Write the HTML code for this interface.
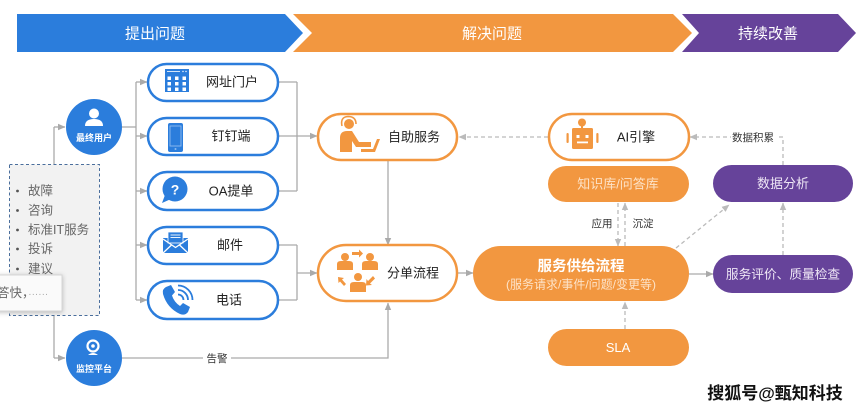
<!DOCTYPE html>
<html><head><meta charset="utf-8"><style>
html,body{margin:0;padding:0;background:#fff;}
svg{display:block;font-family:"Liberation Sans","Noto Sans CJK SC",sans-serif;}
</style></head><body>
<svg width="863" height="412" viewBox="0 0 863 412" xmlns="http://www.w3.org/2000/svg">
<defs>
<marker id="ag" markerWidth="8" markerHeight="8" refX="7" refY="4" orient="auto" markerUnits="userSpaceOnUse"><path d="M0,0.8 L7.5,4 L0,7.2 Z" fill="#aaa"/></marker>
<marker id="ad" markerWidth="8" markerHeight="8" refX="7" refY="4" orient="auto" markerUnits="userSpaceOnUse"><path d="M0,0.8 L7.5,4 L0,7.2 Z" fill="#bbb"/></marker>
<filter id="sh" x="-20%" y="-30%" width="140%" height="160%"><feDropShadow dx="0" dy="1" stdDeviation="2.5" flood-color="#000" flood-opacity="0.25"/></filter>
</defs>

<!-- banners -->
<polygon points="17,14 285,14 303,33 285,52 17,52" fill="#2b7ddc"/>
<polygon points="293,14 673,14 692,33 673,52 293,52 312,33" fill="#f29740"/>
<polygon points="682,14 838,14 856,33 838,52 682,52 699,33" fill="#66439a"/>
<text x="155" y="38.5" font-size="15" fill="#fff" text-anchor="middle">提出问题</text>
<text x="492" y="38.5" font-size="15" fill="#fff" text-anchor="middle">解决问题</text>
<text x="768" y="38.5" font-size="15" fill="#fff" text-anchor="middle">持续改善</text>

<!-- left connectors -->
<g stroke="#aaa" stroke-width="1.3" fill="none">
<line x1="54" y1="127" x2="54" y2="358"/>
<line x1="54" y1="127" x2="65" y2="127" marker-end="url(#ag)"/>
<line x1="54" y1="358" x2="65" y2="358" marker-end="url(#ag)"/>
<line x1="122" y1="127" x2="136" y2="127"/>
<line x1="136" y1="82" x2="136" y2="300"/>
<line x1="136" y1="82" x2="147" y2="82" marker-end="url(#ag)"/>
<line x1="136" y1="136" x2="147" y2="136" marker-end="url(#ag)"/>
<line x1="136" y1="191" x2="147" y2="191" marker-end="url(#ag)"/>
<line x1="136" y1="245" x2="147" y2="245" marker-end="url(#ag)"/>
<line x1="136" y1="300" x2="147" y2="300" marker-end="url(#ag)"/>
<line x1="278" y1="82" x2="297" y2="82"/>
<line x1="278" y1="191" x2="297" y2="191"/>
<line x1="297" y1="82" x2="297" y2="191"/>
<line x1="278" y1="136" x2="317" y2="136" marker-end="url(#ag)"/>
<line x1="278" y1="245" x2="297" y2="245"/>
<line x1="278" y1="300" x2="297" y2="300"/>
<line x1="297" y1="245" x2="297" y2="300"/>
<line x1="297" y1="273" x2="317" y2="273" marker-end="url(#ag)"/>
<line x1="388" y1="160" x2="388" y2="245" marker-end="url(#ag)"/>
<polyline points="122,358 388,358 388,303" marker-end="url(#ag)"/>
<line x1="457" y1="273" x2="473" y2="273" marker-end="url(#ag)"/>
<line x1="689" y1="274" x2="713" y2="274" marker-end="url(#ag)"/>
</g>
<g stroke="#bbb" stroke-width="1.3" fill="none" stroke-dasharray="4,3">
<line x1="548" y1="137" x2="459" y2="137" marker-end="url(#ad)"/>
<line x1="618" y1="203" x2="618" y2="246" marker-end="url(#ad)"/>
<line x1="625" y1="246" x2="625" y2="203" marker-end="url(#ad)"/>
<line x1="625" y1="329" x2="625" y2="302" marker-end="url(#ad)"/>
<line x1="783" y1="255" x2="783" y2="203" marker-end="url(#ad)"/>
<polyline points="783,165 783,137 690,137" marker-end="url(#ad)"/>
<line x1="676" y1="248" x2="729" y2="205" marker-end="url(#ad)"/>
</g>
<rect x="203" y="351" width="28" height="14" fill="#fff"/>
<text x="217" y="362" font-size="10.5" fill="#333" text-anchor="middle">告警</text>
<rect x="731" y="130" width="45" height="14" fill="#fff"/>
<text x="753" y="141" font-size="10.5" fill="#333" text-anchor="middle">数据积累</text>
<text x="602" y="227" font-size="10.5" fill="#333" text-anchor="middle">应用</text>
<text x="643" y="227" font-size="10.5" fill="#333" text-anchor="middle">沉淀</text>

<!-- dashed list box -->
<rect x="9.5" y="164.5" width="90" height="151" fill="#f2f2f2" stroke="#4a6e9c" stroke-width="1" stroke-dasharray="3,2.5"/>
<g font-size="12.5" fill="#666">
<circle cx="17.5" cy="191" r="1.4" fill="#555"/><text x="28" y="195">故障</text>
<circle cx="17.5" cy="210.5" r="1.4" fill="#555"/><text x="28" y="214.5">咨询</text>
<circle cx="17.5" cy="230" r="1.4" fill="#555"/><text x="28" y="234">标准IT服务</text>
<circle cx="17.5" cy="249" r="1.4" fill="#555"/><text x="28" y="253">投诉</text>
<circle cx="17.5" cy="269" r="1.4" fill="#555"/><text x="28" y="273">建议</text>
</g>
<!-- tooltip -->
<rect x="-4" y="275" width="66" height="36" fill="#fafafa" stroke="#d6d6d6" stroke-width="1" filter="url(#sh)"/>
<text x="-3" y="297" font-size="12.5" fill="#666">答快，<tspan fill="#aaa" font-size="10">······</tspan></text>

<!-- circles -->
<circle cx="94" cy="127" r="28" fill="#2b7ddc"/>
<circle cx="94" cy="113.5" r="5" fill="#fff"/>
<path d="M85,126 Q85,119 94,119 Q103,119 103,126 Z" fill="#fff"/>
<text x="94" y="141" font-size="9" font-weight="bold" fill="#fff" text-anchor="middle">最终用户</text>

<circle cx="94" cy="358" r="28" fill="#2b7ddc"/>
<circle cx="93" cy="346" r="5.5" fill="none" stroke="#fff" stroke-width="2.2"/>
<circle cx="93" cy="346" r="1.8" fill="#fff"/>
<path d="M88,355 Q93,351 98,355 Z" fill="#fff"/>
<text x="94" y="372" font-size="9" font-weight="bold" fill="#fff" text-anchor="middle">监控平台</text>

<!-- channel pills -->
<g fill="#fff" stroke="#2b7ddc" stroke-width="2.5">
<rect x="148" y="64" width="130" height="37" rx="18.5"/>
<rect x="148" y="118" width="130" height="37" rx="18.5"/>
<rect x="148" y="172" width="130" height="38" rx="19"/>
<rect x="148" y="227" width="130" height="37" rx="18.5"/>
<rect x="148" y="281" width="130" height="38" rx="19"/>
</g>
<g font-size="13" fill="#222" text-anchor="middle">
<text x="232" y="86.5">网址门户</text>
<text x="231" y="140.5">钉钉端</text>
<text x="231" y="195.5">OA提单</text>
<text x="230" y="249.5">邮件</text>
<text x="229" y="304.5">电话</text>
</g>
<!-- grid icon -->
<rect x="165" y="69" width="24" height="23" fill="#2b7ddc"/>
<line x1="167" y1="71.5" x2="180" y2="71.5" stroke="#fff" stroke-width="0.8"/>
<circle cx="183" cy="71.5" r="0.7" fill="#fff"/><circle cx="186" cy="71.5" r="0.7" fill="#fff"/>
<g fill="#fff">
<rect x="167.5" y="76.5" width="3.5" height="3.5"/><rect x="175" y="76.5" width="3.5" height="3.5"/><rect x="182.5" y="76.5" width="3.5" height="3.5"/>
<rect x="167.5" y="82" width="3.5" height="3.5"/><rect x="175" y="82" width="3.5" height="3.5"/><rect x="182.5" y="82" width="3.5" height="3.5"/>
<rect x="167.5" y="87.5" width="3.5" height="3.5"/><rect x="175" y="87.5" width="3.5" height="3.5"/><rect x="182.5" y="87.5" width="3.5" height="3.5"/>
</g>
<!-- phone icon -->
<rect x="168" y="123" width="15" height="29" rx="2" fill="#2b7ddc"/>
<rect x="170" y="126" width="11" height="20" fill="none" stroke="#8fbcf0" stroke-width="0.9"/>
<circle cx="175.5" cy="149" r="1" fill="#8fbcf0"/>
<!-- question icon -->
<circle cx="175" cy="189" r="12.5" fill="#2b7ddc"/>
<path d="M165,195 L162,203 L171,199 Z" fill="#2b7ddc"/>
<text x="175" y="194.5" font-size="14" font-weight="bold" fill="#fff" text-anchor="middle">?</text>
<!-- envelope icon -->
<rect x="163" y="238" width="25" height="15" fill="#2b7ddc"/>
<rect x="168" y="232" width="15" height="11" fill="#2b7ddc" stroke="#fff" stroke-width="0.8"/>
<line x1="170.5" y1="235" x2="180.5" y2="235" stroke="#fff" stroke-width="0.9"/>
<line x1="170.5" y1="237.5" x2="180.5" y2="237.5" stroke="#fff" stroke-width="0.9"/>
<path d="M163,239 L175.5,247.5 L188,239" fill="none" stroke="#fff" stroke-width="1.3"/>
<path d="M163,253 L171.5,245 M188,253 L179.5,245" fill="none" stroke="#fff" stroke-width="1.3"/>
<!-- telephone icon -->
<path d="M166,287 L171,285 L175,292 L172,295.5 Q174,302 180,306 L183,303 L190,307 L188,312 Q185,316 180,314 Q167,308 163,294 Q162,289 166,287 Z" fill="#2b7ddc"/>
<g fill="none" stroke="#2b7ddc" stroke-width="1.8">
<path d="M178,294.5 A5.5,5.5 0 0 1 183.5,300"/>
<path d="M178,290 A10,10 0 0 1 188,300"/>
<path d="M178,285.5 A14.5,14.5 0 0 1 192.5,300"/>
</g>

<!-- orange outline pills -->
<g fill="#fff" stroke="#f29740" stroke-width="2.5">
<rect x="318" y="114" width="139" height="46" rx="23"/>
<rect x="318" y="245" width="139" height="56" rx="28"/>
<rect x="549" y="114" width="140" height="46" rx="23"/>
</g>
<text x="414" y="141.5" font-size="13" fill="#222" text-anchor="middle">自助服务</text>
<text x="413" y="277.5" font-size="13" fill="#222" text-anchor="middle">分单流程</text>
<text x="636" y="141.5" font-size="13" fill="#222" text-anchor="middle">AI引擎</text>

<!-- self-service icon -->
<g fill="#f29740">
<circle cx="349" cy="124" r="5"/>
<path d="M342,126 Q340,117 348,116.5 Q356,116.5 356,124" fill="none" stroke="#f29740" stroke-width="1.6"/>
<path d="M340,152 L340,138 Q340,131 347,131 L352,131 L359,142 L371,142 L371,147 L356,147 L352,141 L352,152 Z"/>
<path d="M361,152 L375,152 L380,139 L377,139 L373,149 L361,149 Z"/>
</g>
<!-- dispatch icon -->
<g fill="#f29740">
<circle cx="345" cy="257" r="4"/><path d="M337,270 L337,264 Q337,261 341,261 L349,261 Q353,261 353,264 L353,270 Z"/>
<circle cx="370" cy="257" r="4"/><path d="M362,270 L362,264 Q362,261 366,261 L374,261 Q378,261 378,264 L378,270 Z"/>
<circle cx="358" cy="277" r="4"/><path d="M350,292 L350,285 Q350,282 354,282 L362,282 Q366,282 366,285 L366,292 Z"/>
<path d="M352,252 L359,252 L359,249.5 L363,253.5 L359,257.5 L359,255 L352,255 Z"/>
<path d="M373,276 L368,281 L366.5,279 L366,285.5 L372,285 L370,283.5 L375,278.5 Z"/>
<path d="M346,284 L342,279.5 L344,278 L338,277 L338.5,283 L340,281.5 L344,286 Z"/>
</g>
<!-- robot icon -->
<g fill="#f29740">
<circle cx="582" cy="122.5" r="4"/>
<rect x="581" y="125" width="2" height="4"/>
<rect x="572" y="128" width="21" height="21" rx="1.5"/>
<rect x="566.5" y="133" width="2.2" height="10" rx="1"/>
<rect x="596.3" y="133" width="2.2" height="10" rx="1"/>
</g>
<rect x="576.5" y="135" width="3" height="3" fill="#fff"/>
<rect x="585.5" y="135" width="3" height="3" fill="#fff"/>
<rect x="577" y="141.5" width="11" height="1.8" fill="#fff"/>

<!-- orange filled pills -->
<rect x="548" y="166" width="141" height="36" rx="18" fill="#f29740"/>
<text x="618" y="188.5" font-size="13" fill="#fde3c8" text-anchor="middle">知识库/问答库</text>
<rect x="473" y="246" width="216" height="55" rx="27.5" fill="#f29740"/>
<text x="581" y="271" font-size="14.5" font-weight="bold" fill="#fff" text-anchor="middle">服务供给流程</text>
<text x="581" y="288.5" font-size="12" fill="#fde3c8" text-anchor="middle">(服务请求/事件/问题/变更等)</text>
<rect x="548" y="329" width="141" height="37" rx="18.5" fill="#f29740"/>
<text x="618" y="352" font-size="13" fill="#fff" text-anchor="middle">SLA</text>

<!-- purple pills -->
<rect x="713" y="165" width="140" height="37" rx="18.5" fill="#66439a"/>
<text x="783" y="188" font-size="13" fill="#eee6f5" text-anchor="middle">数据分析</text>
<rect x="713" y="255" width="140" height="38" rx="19" fill="#66439a"/>
<text x="783" y="278.5" font-size="12.7" fill="#eee6f5" text-anchor="middle">服务评价、质量检查</text>

<!-- watermark -->
<text x="775" y="399" font-size="17" font-weight="bold" fill="#111" stroke="#fff" stroke-width="2.5" paint-order="stroke" text-anchor="middle">搜狐号@甄知科技</text>
</svg>
</body></html>
